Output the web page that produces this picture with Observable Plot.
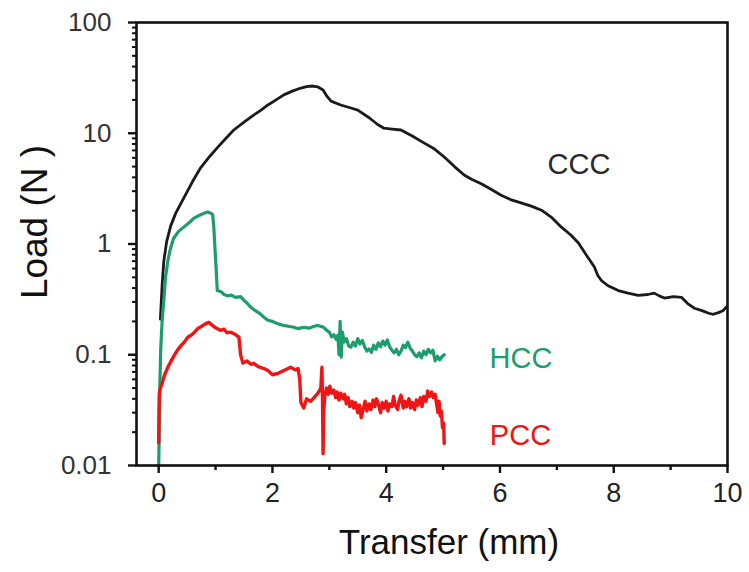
<!DOCTYPE html>
<html>
<head>
<meta charset="utf-8">
<script src="https://cdn.jsdelivr.net/npm/d3@7"></script>
<script src="https://cdn.jsdelivr.net/npm/@observablehq/plot@0.6"></script>
<style>
  html, body { margin: 0; padding: 0; background: #fff; }
  #chart { width: 749px; height: 572px; }
</style>
</head>
<body>
<div id="chart"></div>
<script>
// ---- data ----
const cccX = [0.03,0.06,0.09,0.14,0.21,0.3,0.44,0.6,0.74,0.9,1.04,1.2,1.32,1.5,1.62,1.8,1.92,2.05,2.2,2.35,2.5,2.6,2.71,2.8,2.89,2.96,3.03,3.2,3.38,3.5,3.7,3.85,3.96,4.1,4.26,4.45,4.67,4.85,5.02,5.2,5.37,5.5,5.67,5.85,6.02,6.2,6.37,6.55,6.73,6.9,7.08,7.25,7.38,7.5,7.66,7.72,7.78,7.9,8.08,8.25,8.43,8.6,8.71,8.8,8.89,9.05,9.19,9.3,9.42,9.55,9.67,9.75,9.84,9.92,9.98];
const cccY = [0.21,0.42,0.7,1.05,1.45,1.9,2.6,3.7,4.9,6.2,7.5,9.2,10.7,12.6,14.0,16.2,18.0,19.8,22.2,24.0,25.6,26.4,26.7,26.2,24.6,21.5,19.5,18.0,16.9,16.2,13.8,12.0,11.1,10.9,10.7,9.5,8.15,7.2,6.1,5.0,4.2,3.85,3.5,3.1,2.76,2.5,2.35,2.2,2.02,1.75,1.42,1.2,1.02,0.82,0.62,0.52,0.47,0.42,0.38,0.36,0.344,0.35,0.36,0.34,0.325,0.335,0.33,0.29,0.263,0.25,0.237,0.232,0.24,0.25,0.27];

const hccX = [0.0,0.01,0.02,0.035,0.06,0.09,0.12,0.16,0.2,0.26,0.35,0.44,0.55,0.62,0.72,0.8,0.86,0.92,0.95,0.97,0.99,1.01,1.03,1.1,1.15,1.21,1.28,1.35,1.44,1.5,1.56,1.62,1.7,1.78,1.85,1.92,2.0,2.1,2.2,2.3,2.38,2.45,2.55,2.65,2.72,2.8,2.9,2.96,
  3.0,3.04,3.08,3.12,3.15,3.17,3.19,3.21,3.23,3.26,3.3,3.34,3.38,3.42,3.46,3.5,3.54,3.58,3.62,3.66,3.7,3.74,3.78,3.82,3.86,3.9,3.94,3.98,4.02,4.06,4.1,4.14,4.18,4.22,4.26,4.3,4.34,4.38,4.42,4.46,4.5,4.54,4.58,4.62,4.66,4.7,4.74,4.78,4.82,4.86,4.9,4.94,4.98,5.02];
const hccY = [0.01,0.02,0.05,0.11,0.2,0.31,0.5,0.7,0.88,1.12,1.3,1.42,1.58,1.71,1.82,1.9,1.95,1.9,1.83,1.4,0.9,0.6,0.38,0.37,0.35,0.34,0.345,0.33,0.335,0.31,0.29,0.268,0.25,0.235,0.218,0.205,0.2,0.19,0.184,0.18,0.177,0.172,0.177,0.174,0.18,0.184,0.177,0.165,
  0.16,0.145,0.152,0.138,0.15,0.1,0.2,0.095,0.16,0.13,0.14,0.12,0.117,0.13,0.12,0.14,0.125,0.135,0.118,0.108,0.113,0.105,0.122,0.112,0.128,0.118,0.133,0.122,0.136,0.118,0.11,0.104,0.112,0.1,0.108,0.122,0.116,0.13,0.115,0.108,0.1,0.096,0.104,0.094,0.108,0.1,0.112,0.104,0.11,0.088,0.097,0.09,0.096,0.1];

const pccX = [0.0,0.005,0.01,0.03,0.06,0.1,0.16,0.22,0.28,0.33,0.4,0.45,0.51,0.57,0.63,0.69,0.75,0.82,0.88,0.94,1.0,1.09,1.15,1.2,1.27,1.35,1.41,1.44,1.48,1.55,1.62,1.67,1.75,1.85,1.92,2.0,2.1,2.2,2.32,2.4,2.45,2.48,2.5,2.55,2.6,2.67,2.73,2.8,2.85,2.87,2.88,2.89,2.9,
  2.92,2.95,2.98,3.01,3.04,3.08,3.11,3.14,3.17,3.2,3.24,3.27,3.3,3.33,3.36,3.4,3.43,3.46,3.5,3.53,3.56,3.6,3.63,3.66,3.7,3.73,3.77,3.8,3.83,3.86,3.9,3.93,3.96,4.0,4.03,4.06,4.1,4.13,4.16,4.2,4.23,4.26,4.3,4.33,4.36,4.4,4.43,4.46,4.5,4.53,4.56,4.6,4.63,4.66,4.7,4.73,4.76,4.8,4.83,4.86,4.89,4.91,4.93,4.95,4.97,4.99,5.01,5.02];
const pccY = [0.016,0.03,0.045,0.05,0.055,0.065,0.077,0.088,0.1,0.11,0.122,0.13,0.144,0.15,0.16,0.173,0.18,0.19,0.196,0.185,0.175,0.166,0.17,0.158,0.16,0.152,0.144,0.1,0.084,0.088,0.082,0.0836,0.078,0.075,0.072,0.066,0.068,0.072,0.077,0.073,0.075,0.06,0.037,0.033,0.04,0.038,0.041,0.045,0.05,0.077,0.04,0.0128,0.03,
  0.042,0.05,0.044,0.052,0.045,0.048,0.041,0.046,0.039,0.045,0.04,0.044,0.036,0.041,0.034,0.038,0.033,0.037,0.03,0.035,0.027,0.033,0.038,0.031,0.036,0.032,0.039,0.034,0.04,0.036,0.03,0.037,0.033,0.038,0.031,0.036,0.034,0.042,0.035,0.032,0.039,0.043,0.033,0.038,0.034,0.04,0.033,0.037,0.032,0.039,0.035,0.041,0.034,0.042,0.038,0.047,0.042,0.046,0.041,0.044,0.035,0.03,0.038,0.028,0.031,0.022,0.024,0.0158];

const seriesNames = ["CCC", "HCC", "PCC"];
const seriesColors = ["#1a1a1a", "#1b9e6c", "#f01414"];
const seriesWidths = [2.8, 3.2, 3.4];
const labelX = [7.39, 6.37, 6.36];
const labelY = [5.16, 0.0927, 0.0187];

const xTicks = [0, 2, 4, 6, 8, 10];
const xMinorTicks = [1, 3, 5, 7, 9];
const yTicks = [0.01, 0.1, 1, 10, 100];
const yTickLabels = ["0.01", "0.1", "1", "10", "100"];
const yMinorTicks = [];
for (const d of [0.01, 0.1, 1, 10]) for (let k = 2; k <= 9; k++) yMinorTicks.push(+(d * k).toPrecision(3));

const xLabel = "Transfer (mm)";
const yLabel = "Load (N )";

// ---- build table ----
const seriesData = [[cccX, cccY], [hccX, hccY], [pccX, pccY]].map(([xs, ys], s) =>
  xs.map((x, i) => ({series: seriesNames[s], x, y: ys[i]})));
const labels = seriesNames.map((n, i) => ({series: n, x: labelX[i], y: labelY[i]}));
const labelColors = ["#2a2a2a", seriesColors[1], seriesColors[2]];

const font = "'Liberation Sans', Arial, Helvetica, sans-serif";

const chart = Plot.plot({
  width: 749,
  height: 572,
  marginLeft: 136,
  marginRight: 22,
  marginTop: 22,
  marginBottom: 107,
  style: {fontFamily: font, background: "#fff", color: "#111"},
  x: {domain: [-0.39, 10]},
  y: {type: "log", domain: [0.01, 100]},
  marks: [
    ...seriesData.map((d, s) => Plot.line(d, {x: "x", y: "y", stroke: seriesColors[s], strokeWidth: seriesWidths[s], strokeLinejoin: "round"})),
    Plot.text(labels, {x: "x", y: "y", text: "series", fill: d => labelColors[seriesNames.indexOf(d.series)], fontSize: 29}),
    Plot.frame({stroke: "#111", strokeWidth: 2.6}),
    Plot.axisX({ticks: xTicks, tickSize: 8, tickPadding: 9, fontSize: 27, label: null, strokeWidth: 2.4, fill: "#222"}),
    Plot.axisX({ticks: xMinorTicks, tickSize: 5, tickFormat: () => "", label: null, strokeWidth: 2.4}),
    Plot.axisY({ticks: yTicks, tickSize: 8, tickPadding: 17, fontSize: 26, label: null, strokeWidth: 2.4, fill: "#333",
      tickFormat: d => yTickLabels[yTicks.indexOf(d)]}),
    Plot.axisY({ticks: yMinorTicks, tickSize: 4, tickFormat: () => "", label: null, strokeWidth: 2}),
    Plot.text([xLabel], {frameAnchor: "bottom", lineAnchor: "bottom", textAnchor: "middle", dx: 17, dy: 88, fontSize: 35, fill: "#111", text: d => d}),
    Plot.text([yLabel], {frameAnchor: "left", textAnchor: "middle", lineAnchor: "middle", dx: -101, dy: -22, rotate: -90, fontSize: 37, fill: "#111", text: d => d})
  ]
});
document.getElementById("chart").appendChild(chart);
</script>
</body>
</html>
